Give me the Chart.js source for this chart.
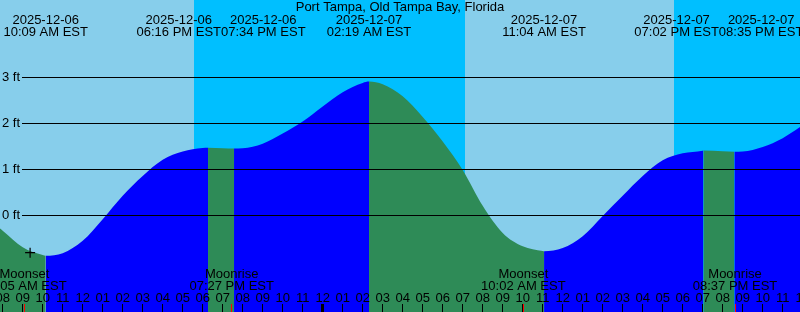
<!DOCTYPE html>
<html><head><meta charset="utf-8">
<script src="https://cdn.jsdelivr.net/npm/chart.js@4"></script>
<style>html,body{margin:0;padding:0;background:#87CEEB;overflow:hidden}#wrap{width:800px;height:312px;position:relative}</style>
</head><body><div id="wrap"><canvas id="c" width="800" height="312"></canvas></div>
<script>
const chartTitle = 'Port Tampa, Old Tampa Bay, Florida';
// time in hours since 2025-12-06 00:00 EST, height in feet
const tideHours = [7, 8, 9, 10, 10.15, 11, 12, 13, 14, 15, 16, 17, 18, 18.267, 19, 19.567, 20, 21, 22, 23, 24, 25, 26, 26.317, 27, 28, 29, 30, 31, 32, 33, 34, 35, 35.067, 36, 37, 38, 39, 40, 41, 42, 43, 43.033, 44, 44.583, 45, 46, 47, 48];
const tideFeet  = [0.02, -0.34, -0.70, -0.87, -0.885, -0.83, -0.56, -0.09, 0.42, 0.85, 1.20, 1.38, 1.455, 1.46, 1.452, 1.445, 1.45, 1.55, 1.77, 2.03, 2.36, 2.67, 2.87, 2.90, 2.84, 2.58, 2.13, 1.60, 0.98, 0.20, -0.39, -0.68, -0.785, -0.79, -0.72, -0.46, -0.02, 0.42, 0.85, 1.19, 1.34, 1.395, 1.40, 1.385, 1.375, 1.38, 1.48, 1.67, 1.95];
const eventHours = [10.15, 18.267, 19.567, 26.317, 35.067, 43.033, 44.583];
const eventDates = ['2025-12-06', '2025-12-06', '2025-12-06', '2025-12-07', '2025-12-07', '2025-12-07', '2025-12-07'];
const eventTimes = ['10:09 AM EST', '06:16 PM EST', '07:34 PM EST', '02:19 AM EST', '11:04 AM EST', '07:02 PM EST', '08:35 PM EST'];
const moonHours = [9.083, 19.45, 34.033, 44.617];
const moonNames = ['Moonset', 'Moonrise', 'Moonset', 'Moonrise'];
const moonTimes = ['09:05 AM EST', '07:27 PM EST', '10:02 AM EST', '08:37 PM EST'];
const sunHours = [17.57, 31.12, 41.57];
const sunKinds = ['set', 'rise', 'set'];
const hourTicks = [8,9,10,11,12,13,14,15,16,17,18,19,20,21,22,23,24,25,26,27,28,29,30,31,32,33,34,35,36,37,38,39,40,41,42,43,44,45,46,47,48];
const hourLabels = ['08','09','10','11','12','01','02','03','04','05','06','07','08','09','10','11','12','01','02','03','04','05','06','07','08','09','10','11','12','01','02','03','04','05','06','07','08','09','10','11','12'];
const yTicks = [0, 1, 2, 3];
const yLabels = ['0 ft', '1 ft', '2 ft', '3 ft'];
const markerHours = [9.37];
const markerFeet = [-0.82];
const xMin = 7.865, xMax = 47.865, yMin = -2.109, yMax = 4.674;

const FONT = '13px "Liberation Sans", Arial, sans-serif';
const DAY = '#87CEEB', NIGHT = '#00BFFF', EBB = '#2E8B57', FLOOD = '#0000FF';

const bgPlugin = {
  id: 'bg',
  beforeDatasetsDraw(chart) {
    const {ctx, chartArea: a, scales: {x}} = chart;
    ctx.save();
    let prev = xMin, state = 'day';
    const edges = sunHours.concat([xMax]);
    const kinds = sunKinds.concat(['end']);
    for (let i = 0; i < edges.length; i++) {
      const x0 = x.getPixelForValue(prev), x1 = x.getPixelForValue(edges[i]);
      ctx.fillStyle = state === 'day' ? DAY : NIGHT;
      ctx.fillRect(Math.round(x0), a.top, Math.round(x1) - Math.round(x0), a.bottom - a.top);
      state = kinds[i] === 'set' ? 'night' : 'day';
      prev = edges[i];
    }
    ctx.restore();
  }
};

function spread(centers, widths) {
  const c = centers.slice();
  for (let i = 0; i < c.length - 1; i++) {
    const need = (widths[i] + widths[i + 1]) / 2;
    if (c[i + 1] - c[i] < need) {
      const mid = (c[i] + c[i + 1]) / 2;
      c[i] = mid - need / 2; c[i + 1] = mid + need / 2;
    }
  }
  return c;
}

const overlayPlugin = {
  id: 'overlay',
  afterDatasetsDraw(chart) {
    const {ctx, chartArea: a, scales: {x, y}} = chart;
    ctx.save();
    ctx.font = FONT;
    ctx.fillStyle = '#000';
    yTicks.forEach((v, i) => {
      const py = Math.round(y.getPixelForValue(v));
      ctx.fillRect(22, py, a.right - 22, 1);
      ctx.textAlign = 'right'; ctx.textBaseline = 'middle';
      ctx.fillText(yLabels[i], 20, py + 0.5);
    });
    ctx.textAlign = 'center'; ctx.textBaseline = 'alphabetic';
    ctx.fillText(chartTitle, (a.left + a.right) / 2, 11);
    const widths = eventTimes.map((t, i) => Math.max(ctx.measureText(t).width, ctx.measureText(eventDates[i]).width));
    const centers = spread(eventHours.map(h => x.getPixelForValue(h)), widths);
    centers.forEach((cx, i) => {
      ctx.fillText(eventDates[i], cx, 24);
      ctx.fillText(eventTimes[i], cx, 36);
    });
    moonHours.forEach((h, i) => {
      const cx = x.getPixelForValue(h);
      ctx.fillText(moonNames[i], cx, 278);
      ctx.fillText(moonTimes[i], cx, 290);
    });
    hourTicks.forEach((h, i) => {
      const px = x.getPixelForValue(h);
      ctx.fillText(hourLabels[i], px, 302);
      if (h % 24 === 0) ctx.fillRect(Math.floor(px) - 1, 304, 3, 8);
      else ctx.fillRect(Math.floor(px), 304, 1, 8);
    });
    ctx.fillStyle = '#FF0000';
    moonHours.forEach(h => {
      const px = x.getPixelForValue(h);
      ctx.fillRect(Math.floor(px), 304, 1, 8);
    });
    ctx.restore();
  }
};

new Chart(document.getElementById('c'), {
  type: 'line',
  data: {
    datasets: [{
      order: 2,
      data: tideHours.map((h, i) => ({x: h, y: tideFeet[i]})),
      fill: 'start',
      cubicInterpolationMode: 'monotone',
      borderColor: 'rgba(0,0,0,0)',
      borderWidth: 0,
      pointRadius: 0,
      pointHoverRadius: 0,
      backgroundColor: FLOOD,
      segment: {
        backgroundColor: c => (c.p1.parsed.y < c.p0.parsed.y ? EBB : FLOOD)
      }
    }, {
      order: 1,
      type: 'scatter',
      data: markerHours.map((h, i) => ({x: h, y: markerFeet[i]})),
      pointStyle: 'cross',
      pointRadius: 5,
      pointHoverRadius: 5,
      borderColor: '#000',
      borderWidth: 1.2,
      backgroundColor: '#000'
    }]
  },
  options: {
    responsive: false,
    animation: false,
    events: [],
    layout: {padding: 0, autoPadding: false},
    plugins: {legend: {display: false}, tooltip: {enabled: false}, title: {display: false}},
    scales: {
      x: {type: 'linear', min: xMin, max: xMax, display: false},
      y: {type: 'linear', min: yMin, max: yMax, display: false}
    }
  },
  plugins: [bgPlugin, overlayPlugin]
});
</script></body></html>
